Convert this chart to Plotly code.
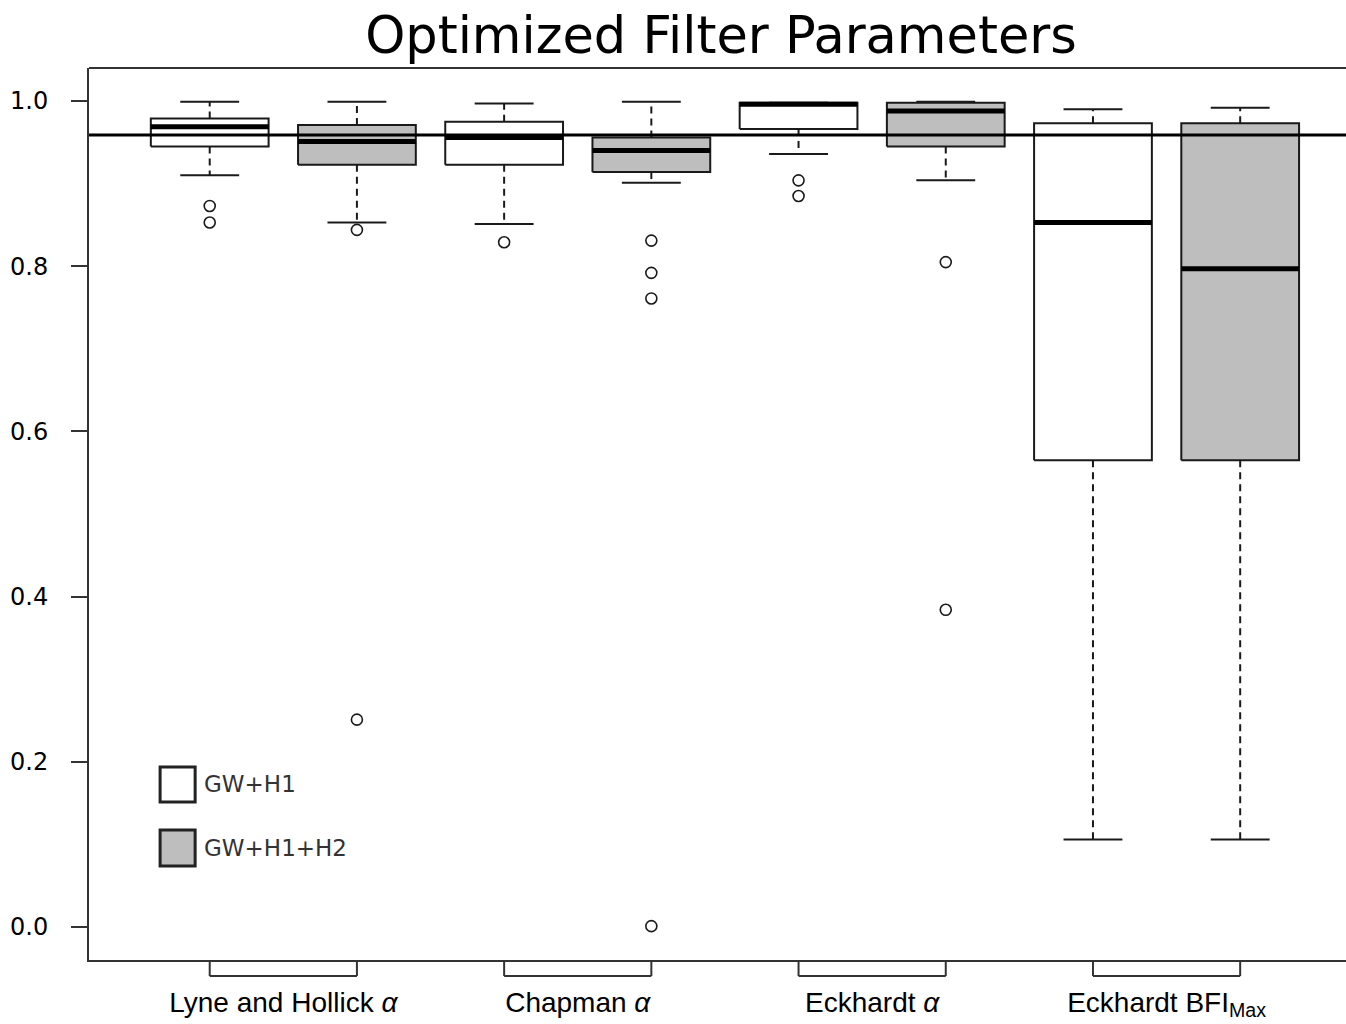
import plotly.graph_objects as go

# ---- data -------------------------------------------------------------
groups = ["Lyne and Hollick <i>α</i>", "Chapman <i>α</i>", "Eckhardt <i>α</i>",
          "Eckhardt BFI<sub>Max</sub>"]
series_names = ["GW+H1", "GW+H1+H2"]
series_fill = ["#FFFFFF", "#BEBEBE"]

# five-number summaries per group (lower whisker, Q1, median, Q3, upper whisker)
h1_lower = [0.910, 0.851, 0.936, 0.106]
h1_q1 = [0.945, 0.923, 0.966, 0.565]
h1_median = [0.969, 0.956, 0.996, 0.853]
h1_q3 = [0.979, 0.975, 0.998, 0.973]
h1_upper = [0.999, 0.997, 0.998, 0.990]
h1_outliers = [[0.873, 0.853], [0.829], [0.904, 0.885], []]

h2_lower = [0.853, 0.901, 0.904, 0.106]
h2_q1 = [0.923, 0.914, 0.945, 0.565]
h2_median = [0.951, 0.940, 0.988, 0.797]
h2_q3 = [0.971, 0.956, 0.998, 0.973]
h2_upper = [0.999, 0.999, 0.999, 0.992]
h2_outliers = [[0.844, 0.251], [0.831, 0.792, 0.761, 0.001], [0.805, 0.384], []]

reference_value = 0.959

y_ticks = [0.0, 0.2, 0.4, 0.6, 0.8, 1.0]
y_ticklabels = ["0.0", "0.2", "0.4", "0.6", "0.8", "1.0"]

# ---- layout constants -------------------------------------------------
W, H = 1346, 1024
BOX_HALF = 0.4
STAPLE_HALF = 0.2
INK = "#1a1a1a"

series = [
    dict(lower=h1_lower, q1=h1_q1, med=h1_median, q3=h1_q3, upper=h1_upper, out=h1_outliers),
    dict(lower=h2_lower, q1=h2_q1, med=h2_median, q3=h2_q3, upper=h2_upper, out=h2_outliers),
]

fig = go.Figure()

box_x, box_y = [[], []], [[], []]
wx, wy, sx, sy, mx, my, ox, oy = [], [], [], [], [], [], [], []
for s_idx, s in enumerate(series):
    for g in range(len(groups)):
        c = 2 * g + s_idx + 1
        l, a, m, b, u = s["lower"][g], s["q1"][g], s["med"][g], s["q3"][g], s["upper"][g]
        box_x[s_idx] += [c - BOX_HALF, c + BOX_HALF, c + BOX_HALF, c - BOX_HALF, c - BOX_HALF, None]
        box_y[s_idx] += [a, a, b, b, a, None]
        wx += [c, c, None, c, c, None]
        wy += [b, u, None, a, l, None]
        sx += [c - STAPLE_HALF, c + STAPLE_HALF, None, c - STAPLE_HALF, c + STAPLE_HALF, None]
        sy += [u, u, None, l, l, None]
        mx += [c - BOX_HALF, c + BOX_HALF, None]
        my += [m, m, None]
        for v in s["out"][g]:
            ox.append(c)
            oy.append(v)

for s_idx in range(2):
    fig.add_trace(go.Scatter(x=box_x[s_idx], y=box_y[s_idx], mode="lines", fill="toself",
                             fillcolor=series_fill[s_idx], line=dict(color=INK, width=2),
                             name=series_names[s_idx], hoverinfo="skip"))

fig.add_trace(go.Scatter(x=wx, y=wy, mode="lines",
                         line=dict(color=INK, width=2, dash="7px,5px"), hoverinfo="skip"))
fig.add_trace(go.Scatter(x=sx, y=sy, mode="lines",
                         line=dict(color=INK, width=2), hoverinfo="skip"))
fig.add_trace(go.Scatter(x=mx, y=my, mode="lines",
                         line=dict(color="#000000", width=5), hoverinfo="skip"))
fig.add_trace(go.Scatter(x=ox, y=oy, mode="markers",
                         marker=dict(symbol="circle-open", size=11, color=INK,
                                     line=dict(width=1.6, color=INK)),
                         hoverinfo="skip"))

shapes = []
# horizontal reference line across the whole panel
shapes.append(dict(type="line", xref="paper", x0=0, x1=1, yref="y",
                   y0=reference_value, y1=reference_value,
                   line=dict(color="#000000", width=3), layer="above"))
# top frame line
shapes.append(dict(type="line", xref="paper", x0=0, x1=1, yref="paper", y0=1, y1=1,
                   line=dict(color="#333333", width=2)))
# group brackets below the x axis
drop = -16 / (960 - 68)
for g in range(len(groups)):
    a, b = 2 * g + 1, 2 * g + 2
    for x0, x1, y0, y1 in [(a, a, 0, drop), (a, b, drop, drop), (b, b, drop, 0)]:
        shapes.append(dict(type="line", xref="x", yref="paper", x0=x0, x1=x1, y0=y0, y1=y1,
                           line=dict(color="#333333", width=2)))

# legend keys
legend_keys = [(0.663, 0.901, 0.1513, 0.1937), (0.663, 0.901, 0.0738, 0.1174)]
annotations = []
for i, (x0, x1, y0, y1) in enumerate(legend_keys):
    shapes.append(dict(type="rect", xref="x", yref="y", x0=x0, x1=x1, y0=y0, y1=y1,
                       fillcolor=series_fill[i], line=dict(color="#222222", width=3)))
    annotations.append(dict(x=0.95, y=(y0 + y1) / 2, xref="x", yref="y", text=series_names[i],
                            showarrow=False, xanchor="left", yanchor="middle",
                            font=dict(family="DejaVu Sans", size=23, color="#333333")))

fig.update_layout(
    width=W, height=H, autosize=False,
    margin=dict(l=89, r=0, t=68, b=64, pad=0),
    paper_bgcolor="white", plot_bgcolor="white",
    showlegend=False,
    title=dict(text="Optimized Filter Parameters", xref="container", x=721 / W,
               xanchor="center", yref="container", y=1 - 35 / H, yanchor="middle",
               font=dict(family="DejaVu Sans", size=51, color="#000000")),
    shapes=shapes,
    annotations=annotations,
    xaxis=dict(range=[0.18, 0.18 + (W - 89.6) / 147.14], showgrid=False, zeroline=False,
               showline=True, linecolor="#333333", linewidth=2,
               tickvals=[1.5, 3.5, 5.5, 7.5], ticktext=groups, ticks="",
               ticklabelstandoff=16,
               tickfont=dict(family="Liberation Sans", size=28, color="#000000")),
    yaxis=dict(range=[-0.04, 1.04], showgrid=False, zeroline=False,
               showline=True, linecolor="#333333", linewidth=2,
               tickvals=y_ticks, ticktext=y_ticklabels, ticks="outside", ticklen=16,
               tickwidth=1.5, tickcolor="#333333", ticklabelstandoff=18,
               tickfont=dict(family="DejaVu Sans", size=24, color="#000000")),
)

fig.write_html("out.html")
